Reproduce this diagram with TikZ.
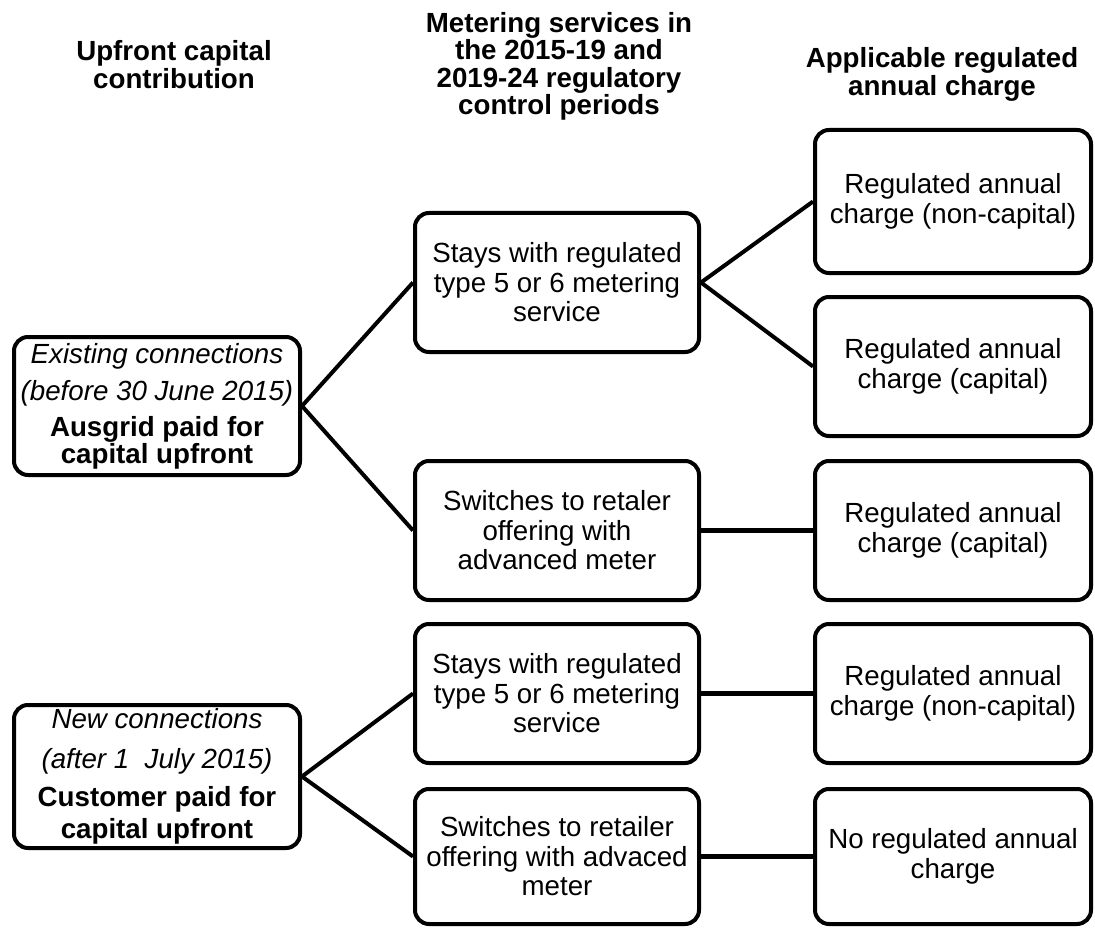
\documentclass[tikz,border=0pt]{standalone}
\usepackage{fontspec}
\setmainfont{Liberation Sans}
\usepackage{tikz}
\usetikzlibrary{calc}
\tikzstyle{bx}=[rectangle,rounded corners=14pt,draw=black,fill=white,
  line width=4pt,inner sep=0pt,align=center,font=\fontsize{27.7}{29.5}\selectfont]
\tikzstyle{lbx}=[bx,minimum width=286pt]
\tikzstyle{mbx}=[bx,minimum width=284pt,minimum height=139pt]
\tikzstyle{rbx}=[bx,minimum width=276pt,minimum height=139pt]
\tikzstyle{hd}=[align=center,font=\fontsize{27.7}{27.5}\selectfont\bfseries]
\tikzstyle{ln}=[line width=4pt]

\begin{document}
\begin{tikzpicture}[x=1pt,y=-1pt]
        \useasboundingbox (0,0) rectangle (1095,928);
        % column headings
        \node[style=hd] (hup) at (174,64.5) {Upfront capital\\contribution};
        \node[style=hd] (hmet) at (559,66.5) {Metering services in\\the 2015-19 and\\2019-24 regulatory\\control periods};
        \node[style=hd] (hchg) at (942,74.5) {Applicable regulated\\annual charge};
        % upfront capital
        \node[style=lbx,minimum height=138pt] (exist) at (157,406) {\textit{Existing connections}\\[7.5pt]\textit{(before 30 June 2015)}\\[6.5pt]\textbf{Ausgrid paid for}\\[-2.5pt]\textbf{capital upfront}};
        \node[style=lbx,minimum height=143pt] (new) at (157,776.5) {\textit{New connections}\\[10.5pt]\textit{(after 1\ \ July 2015)}\\[8.5pt]\textbf{Customer paid for}\\[2.5pt]\textbf{capital upfront}};
        % metering services
        \node[style=mbx] (stay1) at (557,282.5) {Stays with regulated\\type 5 or 6 metering\\service};
        \node[style=mbx] (sw1) at (557,530.5) {Switches to retaler\\offering with\\advanced meter};
        \node[style=mbx] (stay2) at (557,693.5) {Stays with regulated\\type 5 or 6 metering\\service};
        \node[style=mbx,minimum height=135pt] (sw2) at (557,856.5) {Switches to retailer\\offering with advaced\\meter};
        % annual charge
        \node[style=rbx,minimum height=143pt] (nc1) at (953,201.5) {Regulated annual\\charge (non-capital)};
        \node[style=rbx] (cap1) at (953,366.5) {Regulated annual\\charge (capital)};
        \node[style=rbx] (cap2) at (953,530.5) {Regulated annual\\charge (capital)};
        \node[style=rbx] (nc2) at (953,693.5) {Regulated annual\\charge (non-capital)};
        \node[style=rbx,minimum height=135pt] (none) at (953,856.5) {No regulated annual\\charge};
        % connectors
        \draw[style=ln] (exist.east) to (stay1.west);
        \draw[style=ln] (exist.east) to (sw1.west);
        \draw[style=ln] (new.east) to (stay2.west);
        \draw[style=ln] (new.east) to (sw2.west);
        \draw[style=ln] (stay1.east) to (nc1.west);
        \draw[style=ln] (stay1.east) to (cap1.west);
        \draw[style=ln,line width=4.5pt] (sw1.east) to (cap2.west);
        \draw[style=ln,line width=4.5pt] (stay2.east) to (nc2.west);
        \draw[style=ln,line width=4.5pt] (sw2.east) to (none.west);
    \end{tikzpicture}
\end{document}
